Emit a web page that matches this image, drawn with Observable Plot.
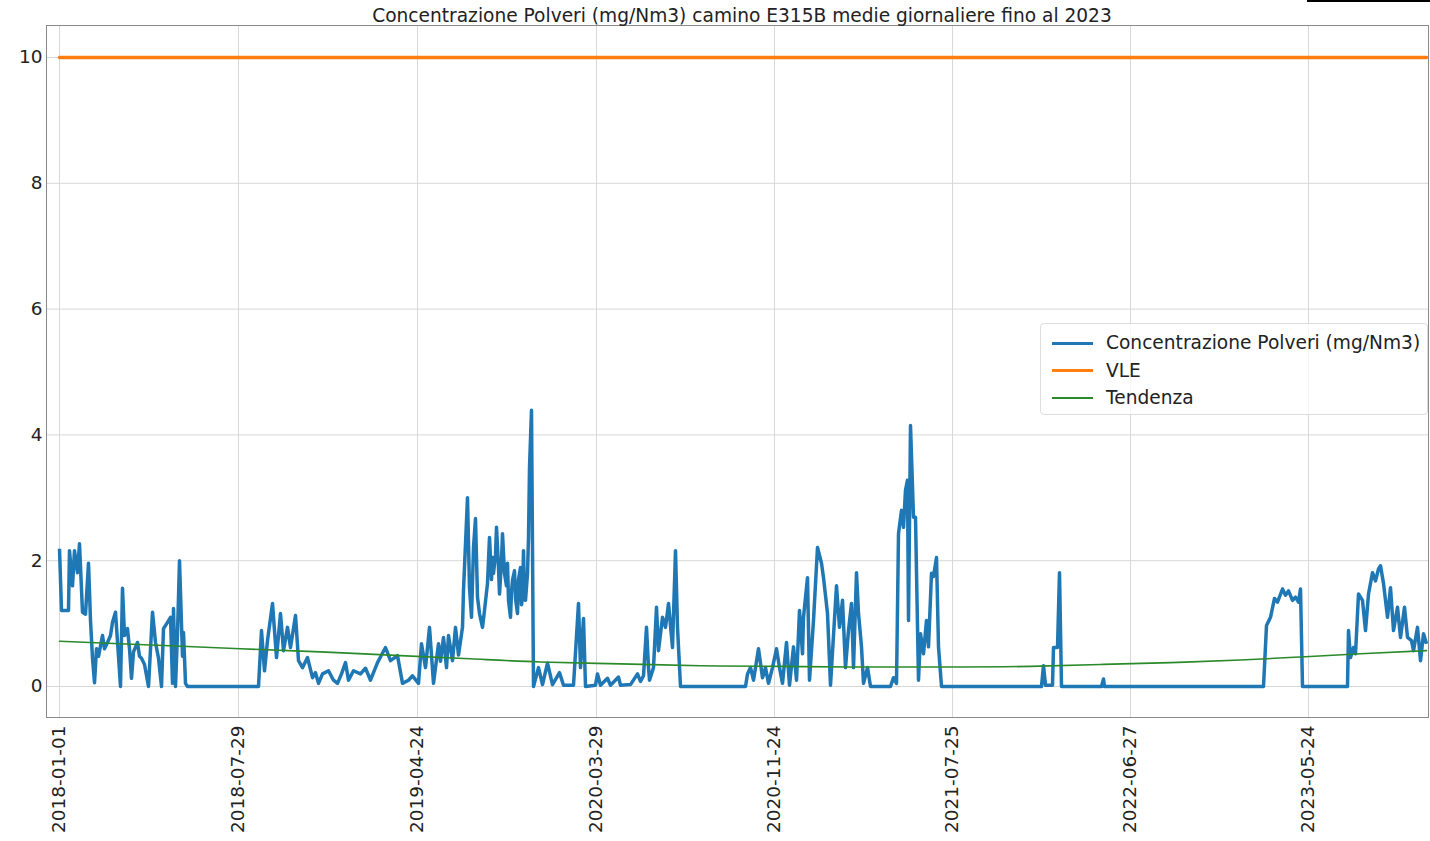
<!DOCTYPE html>
<html>
<head>
<meta charset="utf-8">
<script src="https://cdn.jsdelivr.net/npm/d3@7"></script>
<script src="https://cdn.jsdelivr.net/npm/@observablehq/plot@0.6"></script>
<style>
  html, body { margin: 0; padding: 0; background: #fff; }
  #wrap { position: relative; width: 1430px; height: 841px; overflow: hidden; font-family: "DejaVu Sans", sans-serif; color: #222; }
  #title { position: absolute; left: 54px; top: 6px; width: 1376px; text-align: center; font-size: 18.6px; line-height: 19px; white-space: nowrap; }
  #chart { position: absolute; left: 0; top: 0; }
  #corner { position: absolute; left: 1307px; top: 0; width: 123px; height: 2px; background: #000; }
  #legend { position: absolute; left: 1040px; top: 323px; width: 388px; height: 92px; box-sizing: border-box;
            background: rgba(255,255,255,0.8); border: 1px solid #dddddd; border-radius: 4px; }
  .row { position: absolute; left: 0; height: 20px; }
  .sw { position: absolute; left: 11px; width: 41px; top: 9px; }
  .lab { position: absolute; left: 65px; top: 0; font-size: 18.6px; line-height: 20px; white-space: nowrap; }
</style>
</head>
<body>
<div id="wrap">
  <div id="chart"></div>
  <div id="title"></div>
  <div id="corner"></div>
  <div id="legend"></div>
</div>
<script>
// ---------- data ----------
const chartTitle = "Concentrazione Polveri (mg/Nm3) camino E315B medie giornaliere fino al 2023";
const tickDays = [0, 179, 358, 537, 715, 893, 1071, 1249];
const tickLabels = ["2018-01-01", "2018-07-29", "2019-04-24", "2020-03-29", "2020-11-24", "2021-07-25", "2022-06-27", "2023-05-24"];
const yTicks = [0, 2, 4, 6, 8, 10];
const seriesNames = ["Concentrazione Polveri (mg/Nm3)", "VLE", "Tendenza"];

// [day index, mg/Nm3]
const polveri = [
  [0,2.19],[2,1.21],[9,1.21],[10,2.16],[13,1.6],[15,2.16],[18,1.81],[20,2.27],[23,1.18],[26,1.15],
  [29,1.96],[31,1.05],[33,0.45],[35,0.06],[37,0.6],[39,0.48],[43,0.81],[45,0.6],[48,0.7],[51,0.81],
  [53,1.02],[56,1.18],[59,0.48],[61,0],[63,1.56],[65,0.81],[68,0.92],[70,0.6],[72,0.13],[74,0.55],
  [78,0.7],[80,0.48],[82,0.45],[85,0.35],[89,0],[93,1.18],[96,0.7],[99,0.45],[102,0],[104,0.92],
  [108,1.02],[111,1.1],[113,0.05],[114,1.24],[116,0],[118,0.84],[120,2.0],[123,0.48],[124,0.86],[126,0.05],
  [128,0],[199,0],
  [202,0.89],[205,0.25],[208,0.73],[213,1.32],[217,0.46],[221,1.16],[224,0.57],[228,0.94],[231,0.62],[236,1.13],
  [239,0.41],[243,0.3],[248,0.46],[253,0.14],[256,0.22],[259,0.05],[263,0.2],[269,0.25],[274,0.1],[278,0.05],
  [282,0.2],[286,0.38],[289,0.1],[294,0.25],[301,0.2],[306,0.29],[311,0.1],[318,0.38],[322,0.5],[326,0.62],
  [331,0.41],[338,0.49],[343,0.05],[349,0.1],[353,0.17],[359,0.05],[362,0.68],[366,0.3],[370,0.94],[374,0.05],
  [379,0.68],[381,0.4],[384,0.78],[387,0.3],[389,0.81],[393,0.41],[396,0.94],[399,0.5],[403,0.94],
  [404,1.53],[408,3.0],[410,1.57],[412,1.1],[414,2.21],[416,2.67],[418,1.42],[420,1.16],[423,0.94],[425,1.21],
  [428,1.64],[430,2.37],[432,1.7],[433,2.05],[434,1.8],[436,2.1],[437,2.53],[439,1.89],[440,1.47],[442,2.0],
  [443,2.43],[445,1.8],[447,1.6],[448,1.96],[449,1.37],[451,1.1],[452,1.5],[453,1.69],[455,1.84],[456,1.4],
  [458,1.16],[459,1.7],[461,1.89],[462,1.3],[463,1.42],[464,2.16],[465,1.4],[466,1.37],[468,1.8],[469,2.37],
  [470,3.48],[472,4.39],[474,0],
  [479,0.3],[483,0.03],[488,0.37],[493,0.03],[500,0.22],[504,0.02],[514,0.02],[519,1.32],[521,0.3],[524,1.08],
  [526,0],[536,0.02],[538,0.2],[541,0.02],[548,0.13],[551,0.02],[559,0.15],[561,0.02],[571,0.03],[578,0.2],
  [581,0.08],[584,0.17],[587,0.94],[589,0.3],[590,0.1],[594,0.3],[597,1.26],[599,0.57],[603,1.1],[606,0.94],
  [609,1.32],[613,0.62],[616,2.16],[618,0.94],[621,0],[686,0],
  [688,0.2],[691,0.3],[694,0.1],[699,0.6],[703,0.14],[706,0.3],[709,0.05],[713,0.3],[717,0.6],[720,0.3],
  [723,0.05],[727,0.7],[730,0.02],[734,0.63],[737,0.1],[740,1.21],[743,0.52],[744,1.1],[748,1.73],[750,0.1],
  [754,1.05],[758,2.21],[762,1.96],[764,1.73],[768,1.16],[771,0.02],[777,1.6],[780,0.94],[783,1.37],[786,0.3],
  [789,0.89],[792,1.32],[794,0.3],[797,1.81],[799,1.16],[802,0.63],[804,0.05],[808,0.3],[811,0],[831,0],
  [834,0.14],[837,0.05],[839,2.43],[842,2.8],[844,2.53],[846,3.12],[848,3.28],[849,1.05],[851,4.15],[854,2.69],
  [856,2.69],[859,0.1],[861,0.84],[864,0.52],[867,1.05],[869,0.63],[872,1.8],[874,1.75],[877,2.05],[879,0.63],
  [882,0],[982,0],[984,0.33],[986,0.02],[993,0.02],[994,0.62],[998,0.62],[1000,1.81],[1002,0],[1042,0],
  [1044,0.12],[1045,0],[1204,0],
  [1207,0.97],[1211,1.1],[1215,1.4],[1218,1.34],[1223,1.55],[1226,1.45],[1229,1.52],[1233,1.37],[1236,1.42],[1239,1.34],
  [1241,1.55],[1243,0],[1288,0],
  [1289,0.89],[1291,0.46],[1294,0.62],[1296,0.52],[1299,1.47],[1303,1.37],[1306,0.89],[1309,1.47],[1313,1.81],[1316,1.68],
  [1319,1.87],[1321,1.92],[1324,1.64],[1328,1.1],[1331,1.57],[1334,0.89],[1338,1.26],[1341,0.78],[1345,1.26],[1348,0.78],
  [1352,0.73],[1354,0.57],[1358,0.94],[1361,0.41],[1364,0.84],[1367,0.68]
];

const vleDays = [0, 1367];
const vleValues = [10, 10];

const trendDays = [0, 91, 181, 261, 341, 411, 481, 561, 641, 721, 791, 891, 971, 1041, 1111, 1181, 1241, 1301, 1367];
const trendValues = [0.72, 0.66, 0.6, 0.55, 0.49, 0.44, 0.39, 0.36, 0.33, 0.32, 0.31, 0.31, 0.32, 0.35, 0.38, 0.42, 0.47, 0.52, 0.57];

// ---------- styles ----------
const colors = ["#1f77b4", "#ff7f0e", "#2a8a2a"];
const widths = [3.5, 3.5, 1.6];

const concData = polveri.map(([d, v]) => ({d, v}));
const vleData = vleDays.map((d, i) => ({d, v: vleValues[i]}));
const trendData = trendDays.map((d, i) => ({d, v: trendValues[i]}));
const labelOf = new Map(tickDays.map((d, i) => [d, tickLabels[i]]));

const chart = Plot.plot({
  width: 1430,
  height: 841,
  marginTop: 25,
  marginBottom: 124,
  marginLeft: 46,
  marginRight: 2,
  style: {fontFamily: "DejaVu Sans, sans-serif", fontSize: "18.5px", color: "#222", background: "transparent", overflow: "visible"},
  x: {type: "linear", domain: [-13, 1369]},
  y: {type: "linear", domain: [-0.493, 10.509]},
  marks: [
    Plot.gridX(tickDays, {stroke: "#d8d8d8", strokeOpacity: 1, strokeWidth: 1}),
    Plot.gridY(yTicks, {stroke: "#d8d8d8", strokeOpacity: 1, strokeWidth: 1}),
    Plot.axisY(yTicks, {tickSize: 0, tickPadding: 4, label: null, fontSize: 18.5, tickFormat: d => String(d)}),
    Plot.axisX(tickDays, {tickSize: 0, tickPadding: 8, tickRotate: -90, label: null, fontSize: 18.5, tickFormat: d => labelOf.get(d)}),
    Plot.line(concData, {x: "d", y: "v", stroke: colors[0], strokeWidth: widths[0], strokeLinejoin: "round", strokeLinecap: "butt"}),
    Plot.line(vleData, {x: "d", y: "v", stroke: colors[1], strokeWidth: widths[1]}),
    Plot.line(trendData, {x: "d", y: "v", stroke: colors[2], strokeWidth: widths[2], curve: "natural"}),
    Plot.frame({stroke: "#8a8a8a", strokeWidth: 1})
  ]
});
document.getElementById("chart").appendChild(chart);
document.getElementById("title").textContent = chartTitle;

const legend = document.getElementById("legend");
seriesNames.forEach((name, i) => {
  const row = document.createElement("div");
  row.className = "row";
  row.style.top = (9 + i * 27.5) + "px";
  const sw = document.createElement("div");
  sw.className = "sw";
  sw.style.height = widths[i] < 2 ? "2px" : "3px";
  sw.style.marginTop = widths[i] < 2 ? "0px" : "-0.5px";
  sw.style.background = colors[i];
  const lab = document.createElement("div");
  lab.className = "lab";
  lab.textContent = name;
  row.appendChild(sw);
  row.appendChild(lab);
  legend.appendChild(row);
});
</script>
</body>
</html>
